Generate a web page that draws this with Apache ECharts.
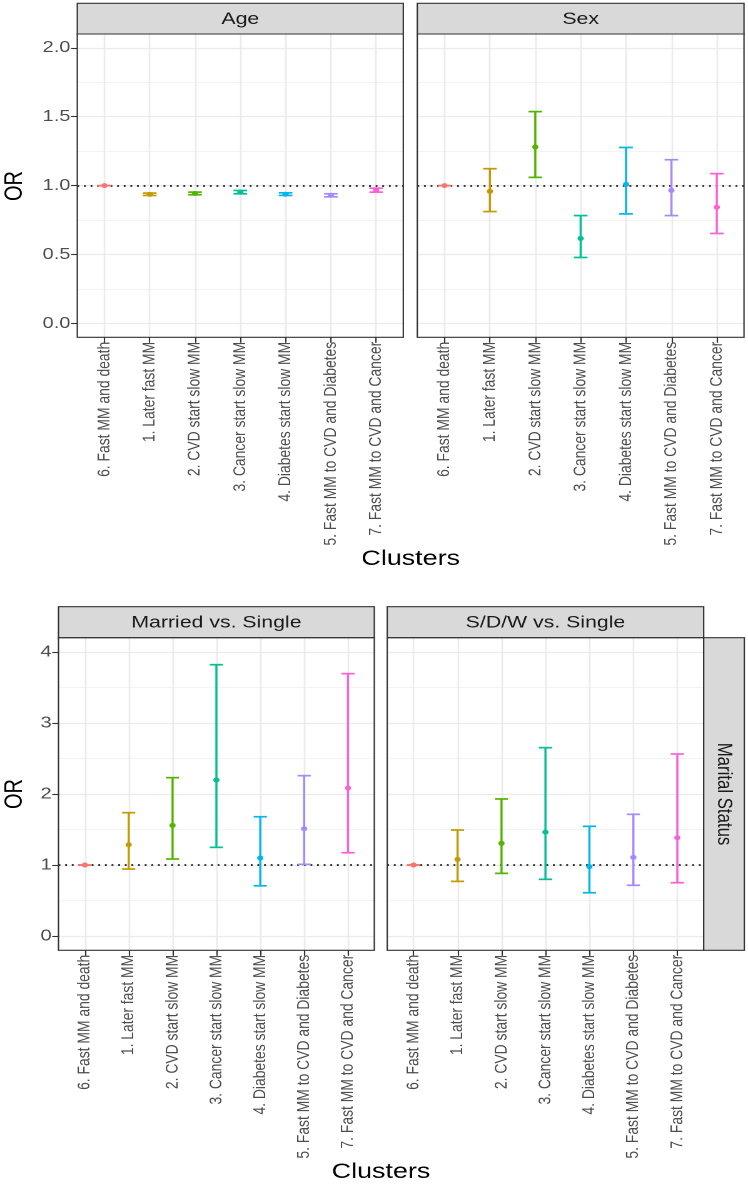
<!DOCTYPE html>
<html><head><meta charset="utf-8">
<script src="https://cdn.jsdelivr.net/npm/echarts@6/dist/echarts.min.js"></script>
<style>
html,body{margin:0;padding:0;background:#fff;overflow:hidden;}
#wrap{width:748px;height:1187px;overflow:hidden;background:#fff;}
#chart{width:598px;height:1187px;transform:scaleX(1.25084);transform-origin:0 0;}
</style></head>
<body><div id="wrap"><div id="chart"></div></div>
<script>
// ---------------- data ----------------
const categories = ["6. Fast MM and death","1. Later fast MM","2. CVD start slow MM","3. Cancer start slow MM","4. Diabetes start slow MM","5. Fast MM to CVD and Diabetes","7. Fast MM to CVD and Cancer"];
const clusterColors = ['#F8766D','#C49A00','#53B400','#00C094','#00B6EB','#A58AFF','#FB61D7'];
const xPositions = [1,2,3,4,5,6,7];

const ageOR    = [1, 0.937, 0.943, 0.953, 0.938, 0.930, 0.967];
const ageLower = [1, 0.929, 0.934, 0.941, 0.929, 0.919, 0.953];
const ageUpper = [1, 0.946, 0.953, 0.965, 0.948, 0.941, 0.982];

const sexOR    = [1, 0.959, 1.280, 0.617, 1.009, 0.966, 0.843];
const sexLower = [1, 0.812, 1.060, 0.479, 0.795, 0.783, 0.653];
const sexUpper = [1, 1.123, 1.537, 0.783, 1.277, 1.188, 1.087];

const marriedOR    = [1, 1.286, 1.559, 2.197, 1.099, 1.511, 2.085];
const marriedLower = [1, 0.944, 1.085, 1.249, 0.708, 1.010, 1.173];
const marriedUpper = [1, 1.737, 2.230, 3.820, 1.680, 2.258, 3.694];

const sdwOR    = [1, 1.080, 1.306, 1.464, 0.976, 1.108, 1.384];
const sdwLower = [1, 0.770, 0.883, 0.799, 0.610, 0.715, 0.751];
const sdwUpper = [1, 1.493, 1.930, 2.652, 1.545, 1.714, 2.563];

const topTicks = [0, 0.5, 1, 1.5, 2];
const topTickLabels = ['0.0','0.5','1.0','1.5','2.0'];
const topMinor = [0.25, 0.75, 1.25, 1.75];
const bottomTicks = [0, 1, 2, 3, 4];
const bottomTickLabels = ['0','1','2','3','4'];
const bottomMinor = [0.5, 1.5, 2.5, 3.5];
const refValue = 1;

// ---------------- layout ----------------
const SX = 748 / 598;
const FONT = "'Liberation Sans', Arial, Helvetica, sans-serif";
const panels = [
  {title:'Age', x0:77.3, x1:403.3, y0:34, y1:337.3, stripTop:3.3, or:ageOR, lo:ageLower, hi:ageUpper, yMin:-0.1, yMax:2.1, ticks:topTicks, tickLabels:topTickLabels, minor:topMinor, showY:true},
  {title:'Sex', x0:417.3, x1:744, y0:34, y1:337.3, stripTop:3.3, or:sexOR, lo:sexLower, hi:sexUpper, yMin:-0.1, yMax:2.1, ticks:topTicks, tickLabels:topTickLabels, minor:topMinor, showY:false},
  {title:'Married vs. Single', x0:58.5, x1:374.3, y0:637.7, y1:950.3, stripTop:606.7, or:marriedOR, lo:marriedLower, hi:marriedUpper, yMin:-0.2, yMax:4.2, ticks:bottomTicks, tickLabels:bottomTickLabels, minor:bottomMinor, showY:true},
  {title:'S/D/W vs. Single', x0:387.2, x1:703.7, y0:637.7, y1:950.3, stripTop:606.7, or:sdwOR, lo:sdwLower, hi:sdwUpper, yMin:-0.2, yMax:4.2, ticks:bottomTicks, tickLabels:bottomTickLabels, minor:bottomMinor, showY:false}
];

const grids = [], xAxes = [], yAxes = [], series = [], graphics = [];

panels.forEach((p, i) => {
  const left = p.x0 / SX, width = (p.x1 - p.x0) / SX;
  grids.push({left: left, top: p.y0, width: width, height: p.y1 - p.y0,
    show: true, backgroundColor: '#ffffff', borderWidth: 0, containLabel: false, outerBoundsMode: 'none'});
  xAxes.push({type: 'value', gridIndex: i, min: 0.4, max: 7.6,
    axisLine: {show: false, onZero: false},
    axisTick: {show: true, length: 5.5, customValues: xPositions, lineStyle: {color: '#333333', width: 1.1}},
    axisLabel: {show: true, customValues: xPositions, rotate: 90, margin: 4.5, fontSize: 13.9, color: '#4D4D4D', fontFamily: FONT,
      formatter: v => categories[Math.round(v) - 1]},
    splitLine: {show: false}});
  yAxes.push({type: 'value', gridIndex: i, min: p.yMin, max: p.yMax,
    axisLine: {show: false, onZero: false},
    axisTick: {show: p.showY, length: 5, customValues: p.ticks, lineStyle: {color: '#333333', width: 1.1}},
    axisLabel: {show: p.showY, customValues: p.ticks, margin: 5.5, fontSize: 16, color: '#4D4D4D', fontFamily: FONT,
      formatter: v => p.tickLabels[p.ticks.indexOf(v)]},
    splitLine: {show: false}});

  // grid lines through the axes' scales
  const gl = [];
  p.minor.forEach(v => gl.push({yAxis: v, lineStyle: {color: '#EFEFEF', width: 0.8, type: 'solid'}}));
  p.ticks.forEach(v => gl.push({yAxis: v, lineStyle: {color: '#EBEBEB', width: 1.3, type: 'solid'}}));
  xPositions.forEach(v => gl.push({xAxis: v, lineStyle: {color: '#EBEBEB', width: 1.3, type: 'solid'}}));
  series.push({type: 'line', xAxisIndex: i, yAxisIndex: i, data: [], z: 1, silent: true, animation: false,
    markLine: {z: 1, silent: true, animation: false, symbol: ['none','none'], label: {show: false}, data: gl}});
  // reference dotted line
  series.push({type: 'line', xAxisIndex: i, yAxisIndex: i, data: [], z: 2, silent: true, animation: false,
    markLine: {z: 2, silent: true, animation: false, symbol: ['none','none'], label: {show: false},
      lineStyle: {color: '#000000', width: 1.5, type: [1.5, 3.8]}, data: [{yAxis: refValue}]}});
  // error bars
  series.push({type: 'custom', xAxisIndex: i, yAxisIndex: i, z: 3, animation: false, silent: true,
    data: xPositions.map((x, k) => [x, p.lo[k], p.hi[k], p.or[k]]),
    renderItem: function (params, api) {
      const x = api.value(0);
      const a = api.coord([x, api.value(1)]);
      const b = api.coord([x, api.value(2)]);
      const c = api.coord([x, api.value(3)]);
      const hw = api.size([0.3, 0])[0] / 2;
      const col = clusterColors[params.dataIndex];
      const st = {stroke: col, lineWidth: 1.7};
      return {type: 'group', children: [
        {type: 'line', shape: {x1: a[0], y1: a[1], x2: b[0], y2: b[1]}, style: st},
        {type: 'line', shape: {x1: a[0] - hw, y1: a[1], x2: a[0] + hw, y2: a[1]}, style: st},
        {type: 'line', shape: {x1: b[0] - hw, y1: b[1], x2: b[0] + hw, y2: b[1]}, style: st},
        {type: 'circle', shape: {cx: c[0], cy: c[1], r: 2.5}, style: {fill: col}}
      ]};
    }});

  // strip + border
  graphics.push({type: 'rect', z: 100, shape: {x: left, y: p.stripTop, width: width, height: p.y0 - p.stripTop},
    style: {fill: '#D9D9D9', stroke: '#333333', lineWidth: 1.1}});
  graphics.push({type: 'rect', z: 100, shape: {x: left, y: p.y0, width: width, height: p.y1 - p.y0},
    style: {fill: 'transparent', stroke: '#333333', lineWidth: 1.1}});
  graphics.push({type: 'text', z: 101, x: left + width / 2, y: (p.stripTop + p.y0) / 2 + 0.5,
    style: {text: p.title, fontSize: 17, fontFamily: FONT, fill: '#1A1A1A', align: 'center', verticalAlign: 'middle'}});
});

// right strip "Marital Status"
const rs = {x0: 703.7, x1: 744.3, y0: 637.7, y1: 950.3};
graphics.push({type: 'rect', z: 100, shape: {x: rs.x0 / SX, y: rs.y0, width: (rs.x1 - rs.x0) / SX, height: rs.y1 - rs.y0},
  style: {fill: '#D9D9D9', stroke: '#333333', lineWidth: 1.1}});
graphics.push({type: 'text', z: 101, x: (rs.x0 + rs.x1) / 2 / SX, y: (rs.y0 + rs.y1) / 2, rotation: -Math.PI / 2,
  style: {text: 'Marital Status', fontSize: 16.8, fontFamily: FONT, fill: '#1A1A1A', align: 'center', verticalAlign: 'middle'}});

// axis titles
graphics.push({type: 'text', z: 101, x: 15 / SX, y: 186, rotation: Math.PI / 2,
  style: {text: 'OR', fontSize: 20, fontFamily: FONT, fill: '#000000', align: 'center', verticalAlign: 'middle'}});
graphics.push({type: 'text', z: 101, x: 15 / SX, y: 794, rotation: Math.PI / 2,
  style: {text: 'OR', fontSize: 20, fontFamily: FONT, fill: '#000000', align: 'center', verticalAlign: 'middle'}});
graphics.push({type: 'text', z: 101, x: 410.7 / SX, y: 559, 
  style: {text: 'Clusters', fontSize: 21.5, fontFamily: FONT, fill: '#000000', align: 'center', verticalAlign: 'middle'}});
graphics.push({type: 'text', z: 101, x: 381 / SX, y: 1172,
  style: {text: 'Clusters', fontSize: 21.5, fontFamily: FONT, fill: '#000000', align: 'center', verticalAlign: 'middle'}});

const chart = echarts.init(document.getElementById('chart'), null, {renderer: 'canvas', devicePixelRatio: 2});
chart.setOption({
  backgroundColor: '#ffffff',
  animation: false,
  grid: grids,
  xAxis: xAxes,
  yAxis: yAxes,
  series: series,
  graphic: {elements: graphics}
});
</script>
</body></html>
